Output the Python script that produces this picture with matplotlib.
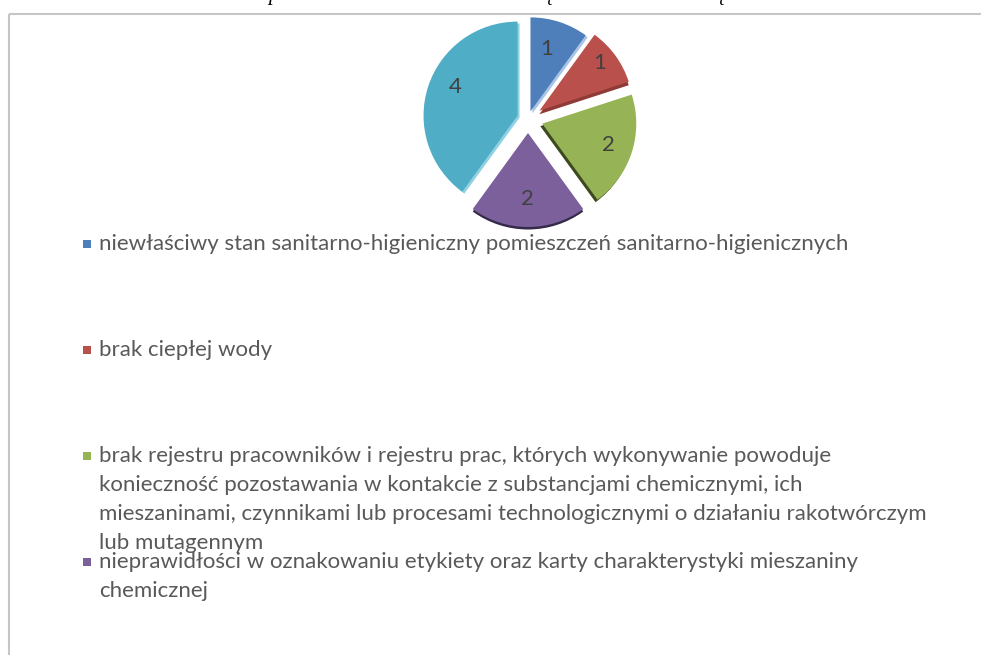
import math
import matplotlib
matplotlib.use("Agg")
import matplotlib.pyplot as plt
from matplotlib.patches import Rectangle

W, H = 981, 655
categories = [
    "niewłaściwy stan sanitarno-higieniczny pomieszczeń sanitarno-higienicznych",
    "brak ciepłej wody",
    "brak rejestru pracowników i rejestru prac, których wykonywanie powoduje\nkonieczność pozostawania w kontakcie z substancjami chemicznymi, ich\nmieszaninami, czynnikami lub procesami technologicznymi o działaniu rakotwórczym\nlub mutagennym",
    "nieprawidłości w oznakowaniu etykiety oraz karty charakterystyki mieszaniny\nchemicznej",
    "",
]
values = [1, 1, 2, 2, 4]
colors = ["#4f7fba", "#b9504c", "#96b456", "#7c609c", "#50adc6"]
edge_colors = ["#a9c4e6", "#8f3a37", "#3d4a20", "#352a48", "#8fd0e2"]
legend_y = [244, 350, 456, 562]
label_frac = [0.70, 0.83, 0.74, 0.70, 0.73]
label_shift = [(-4, 0), (-3, 2), (0, 0), (-1, 0), (3, 7)]
explode = [8, 14, 15, 14, 11]
side_shift = [(2, -2), (0, -3.5), (-2, -2.5), (0, -2.5), (2, -2)]
title_bits = [("p", 273), ("ą", 548), ("ą", 720)]

fig = plt.figure(figsize=(W / 100, H / 100), dpi=100, facecolor="white")
ax = fig.add_axes([0, 0, 1, 1])
cx, cy, r = 528, H - 119, 94

sides, _ = ax.pie(values, colors=edge_colors, explode=explode, startangle=90, counterclock=False,
                  radius=r, center=(cx, cy), frame=True, wedgeprops=dict(linewidth=0))
for s, (dx, dy) in zip(sides, side_shift):
    s.set_center((s.center[0] + dx, s.center[1] + dy))
wedges, _ = ax.pie(values, colors=colors, explode=explode, startangle=90, counterclock=False,
                   radius=r, center=(cx, cy), frame=True, wedgeprops=dict(linewidth=0))
for w, v, f, (sx, sy) in zip(wedges, values, label_frac, label_shift):
    a = math.radians((w.theta1 + w.theta2) / 2)
    ax.text(w.center[0] + f * r * math.cos(a) + sx, w.center[1] + f * r * math.sin(a) + sy, str(v),
            ha="center", va="center", fontsize=16, family="Lato", color="#404040")

ax.set_xlim(0, W)
ax.set_ylim(0, H)
ax.set_aspect("auto")
ax.axis("off")

# chart frame
ax.plot([8.5, 981], [H - 13.5, H - 13.5], color="#c6c6c6", lw=1.5, solid_capstyle="butt")
ax.plot([8.5, 8.5], [0, H - 13.5], color="#c6c6c6", lw=1.5, solid_capstyle="butt")

# legend
for cat, col, y in zip(categories, colors, legend_y):
    if not cat:
        continue
    ax.add_patch(Rectangle((83, H - y - 4), 8, 8, facecolor=col, edgecolor="none"))
    for i, line in enumerate(cat.split("\n")):
        ax.text(99, H - y - i * 29, line, ha="left", va="center", fontsize=16.05,
                family="Lato", color="#595959")

# clipped remains of the caption above the chart
for ch, x in title_bits:
    ax.text(x, H, ch, ha="center", va="baseline", fontsize=15, style="italic",
            family="Liberation Serif", color="black", clip_on=True)

fig.savefig("out.png", dpi=100)
